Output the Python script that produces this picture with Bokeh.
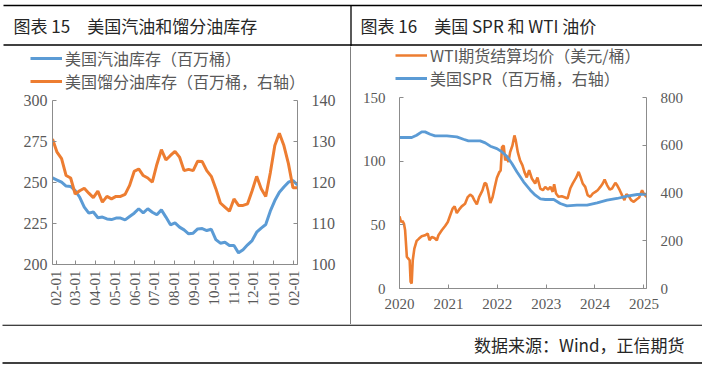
import math
import pandas as pd
from bokeh.plotting import figure
from bokeh.models import (Range1d, LinearAxis, FixedTicker, DatetimeTickFormatter,
                          Legend, LegendItem)
from bokeh.layouts import column, row
from bokeh.embed import file_html
from bokeh.resources import INLINE
from bokeh.core.properties import value

# ---------------- data: chart 15 (weekly) ----------------
c1_start = "2024-01-26"
c1_weeks = 55
gasoline = [252.8, 251.5, 250.2, 247.8, 247.6, 245.1, 241.0, 235.0, 231.3, 232.0,
            228.5, 228.9, 227.8, 227.4, 228.3, 228.3, 227.2, 229.3, 231.3, 234.0,
            231.5, 234.0, 231.9, 230.3, 233.3, 228.9, 224.2, 225.4, 222.8, 221.1,
            218.7, 219.1, 221.7, 221.9, 220.7, 221.5, 215.2, 213.0, 213.6, 211.6,
            211.6, 207.1, 209.0, 212.0, 214.6, 219.7, 222.2, 224.4, 232.5, 239.0,
            244.1, 247.2, 250.2, 251.2, 248.6]
distillate = [130.6, 127.4, 125.8, 121.7, 121.1, 117.2, 118.0, 118.6, 117.4, 116.3,
              117.9, 115.2, 116.6, 116.0, 116.6, 116.6, 117.1, 119.3, 122.7, 123.3,
              121.7, 121.1, 120.1, 124.4, 128.0, 125.5, 126.6, 127.6, 126.2, 122.9,
              123.2, 122.9, 125.2, 125.1, 122.9, 121.5, 118.5, 115.0, 114.0, 113.0,
              116.0, 114.4, 114.4, 114.8, 118.0, 121.5, 118.5, 116.6, 122.3, 129.0,
              132.0, 129.0, 124.6, 118.7, 118.7]
c1_ticks = ["2024-02-01", "2024-03-01", "2024-04-01", "2024-05-01", "2024-06-01",
            "2024-07-01", "2024-08-01", "2024-09-01", "2024-10-01", "2024-11-01",
            "2024-12-01", "2025-01-01", "2025-02-01"]
c1_left_ticks = [200, 225, 250, 275, 300]
c1_right_ticks = [100, 110, 120, 130, 140]
c1_labels = ["美国汽油库存（百万桶）", "美国馏分油库存（百万桶，右轴）"]

# ---------------- data: chart 16 ----------------
wti_dates = ["2020-01-01", "2020-01-13", "2020-01-23", "2020-02-03", "2020-02-12", "2020-02-25",
             "2020-03-07", "2020-03-17", "2020-03-24", "2020-04-01", "2020-04-09", "2020-04-21",
             "2020-05-08", "2020-05-26", "2020-06-15", "2020-07-10", "2020-07-30", "2020-08-12",
             "2020-08-29", "2020-09-18", "2020-10-06", "2020-10-18", "2020-11-12", "2020-12-07",
             "2020-12-27", "2021-01-14", "2021-02-01", "2021-02-16", "2021-03-04", "2021-03-21",
             "2021-04-10", "2021-05-05", "2021-05-25", "2021-06-12", "2021-06-29", "2021-07-14",
             "2021-08-01", "2021-08-18", "2021-09-12", "2021-09-28", "2021-10-10", "2021-10-23",
             "2021-11-10", "2021-11-27", "2021-12-12", "2021-12-29", "2022-01-16", "2022-01-26",
             "2022-02-05", "2022-02-18", "2022-03-01", "2022-03-13", "2022-03-25", "2022-04-07",
             "2022-04-24", "2022-05-09", "2022-05-19", "2022-06-03", "2022-06-20", "2022-07-08",
             "2022-07-23", "2022-08-09", "2022-08-27", "2022-09-16", "2022-10-11", "2022-10-28",
             "2022-11-18", "2022-12-08", "2022-12-25", "2023-01-15", "2023-02-02", "2023-02-19",
             "2023-03-02", "2023-03-16", "2023-04-03", "2023-04-28", "2023-05-23", "2023-06-10",
             "2023-06-30", "2023-07-19", "2023-08-14", "2023-09-01", "2023-09-13", "2023-10-01",
             "2023-10-20", "2023-11-07", "2023-11-27", "2023-12-16", "2024-01-04", "2024-01-21",
             "2024-02-10", "2024-02-28", "2024-03-13", "2024-03-31", "2024-04-20", "2024-05-07",
             "2024-06-01", "2024-06-14", "2024-07-04", "2024-07-21", "2024-08-08", "2024-08-23",
             "2024-09-10", "2024-09-27", "2024-10-17", "2024-11-06", "2024-11-26", "2024-12-18",
             "2025-01-01", "2025-01-20"]
wti = [56.7, 52.2, 53.0, 51.0, 45.7, 24.8, 23.5, 22.2, 5.2, 3.9, 22.2, 31.3,
       37.4, 39.2, 41.0, 41.8, 43.1, 37.9, 40.5, 39.7, 37.9, 41.8, 45.7, 49.1,
       52.2, 57.5, 62.7, 64.5, 59.3, 61.9, 64.5, 66.6, 71.8, 73.7, 72.4, 69.2,
       66.1, 71.8, 77.1, 82.8, 82.3, 77.1, 67.1, 71.8, 79.2, 87.0, 91.4, 92.7,
       111.0, 112.3, 100.6, 103.2, 99.3, 107.1, 112.3, 120.2, 116.3, 107.1, 100.6, 96.7,
       91.4, 87.2, 92.9, 86.4, 82.5, 87.2, 78.5, 77.2, 79.8, 77.7, 79.8, 75.9,
       81.9, 74.6, 72.0, 72.5, 71.5, 70.7, 78.5, 82.5, 87.2, 91.6, 88.2, 82.5,
       79.8, 73.3, 72.0, 74.6, 75.9, 77.2, 79.8, 82.5, 85.6, 81.2, 77.7, 78.5,
       83.0, 81.2, 77.2, 73.3, 69.4, 74.1, 72.5, 69.4, 68.1, 69.9, 71.5, 77.2,
       74.1, 72.0]
spr_dates = ["2020-01-01", "2020-04-01", "2020-05-08", "2020-06-15", "2020-07-10", "2020-08-17",
             "2020-09-23", "2020-12-20", "2021-03-04", "2021-04-23", "2021-05-30", "2021-08-26",
             "2021-10-03", "2021-11-10", "2021-12-29", "2022-02-05", "2022-03-13", "2022-04-20",
             "2022-05-27", "2022-07-16", "2022-09-05", "2022-10-12", "2022-11-19", "2022-12-26",
             "2023-02-27", "2023-04-16", "2023-06-05", "2023-08-19", "2023-11-03", "2024-01-17",
             "2024-03-31", "2024-06-14", "2024-08-28", "2024-11-12", "2025-01-20"]
spr = [632.5, 632.5, 642, 656, 656, 646, 639, 639, 635, 625, 618.5, 618.5,
       610, 596, 586, 572, 554, 523.6, 488.7, 446.8, 411.9, 391, 375.6, 372.8,
       372.8, 356, 346.2, 349, 349, 358.8, 370, 377, 386.7, 393.7, 395]
c2_ticks = ["2020-01-01", "2021-01-01", "2022-01-01", "2023-01-01", "2024-01-01", "2025-01-01"]
c2_left_ticks = [0, 50, 100, 150]
c2_right_ticks = [0, 200, 400, 600, 800]
c2_labels = ["WTI期货结算均价（美元/桶）", "美国SPR（百万桶，右轴）"]

BLUE = "#5B9BD5"
ORANGE = "#ED7D31"
AXIS = "#8C8C8C"
LABEL = "#595959"
CJK = "Noto Sans CJK SC"
NUM = "Liberation Serif"


def ms(d):
    return pd.Timestamp(d).value / 1e6


def style_axis(ax, size, standoff):
    ax.axis_line_color = AXIS
    ax.major_tick_line_color = AXIS
    ax.major_tick_in = 4
    ax.major_tick_out = 0
    ax.minor_tick_line_color = None
    ax.major_label_text_font = NUM
    ax.major_label_text_font_size = size
    ax.major_label_text_color = LABEL
    ax.major_label_standoff = standoff


def fmt(pattern):
    return DatetimeTickFormatter(days=pattern, months=pattern, years=pattern,
                                 hours=pattern, hourmin=pattern, minutes=pattern,
                                 strip_leading_zeros=False)


def no_align(p):
    try:
        p.frame_align = False
    except Exception:
        pass


def blank(width, height, **kw):
    f = figure(width=width, height=height, x_range=Range1d(0, width), y_range=Range1d(height, 0),
               min_border=0, x_axis_location=None, y_axis_location=None,
               output_backend="svg", toolbar_location=None, outline_line_color=None, **kw)
    f.grid.visible = False
    no_align(f)
    return f


def legend_fig(width, height, labels, colors, widths, locs):
    """Legend keys only: one single-row legend per series, keys drawn off-range."""
    f = blank(width, height)
    for lab, col, lw, loc in zip(labels, colors, widths, locs):
        r = f.line(x=[-20, -10], y=[-20, -10], line_color=col, line_width=lw)
        lg = Legend(items=[LegendItem(label=lab, renderers=[r])], location=loc)
        lg.label_text_font = CJK
        lg.label_text_font_size = "16px"
        lg.label_text_color = LABEL
        lg.glyph_width = 32
        lg.glyph_height = 20
        lg.label_height = 20
        lg.label_standoff = 3
        lg.spacing = 0
        lg.padding = 0
        lg.margin = 0
        lg.border_line_color = None
        lg.background_fill_alpha = 0
        f.add_layout(lg)
    return f


# ---------------- header ----------------
hdr = blank(702, 46)
hdr.line(x=[3, 702], y=[5, 5], line_color="black", line_width=1.3)
hdr.line(x=[3, 702], y=[44.5, 44.5], line_color="black", line_width=1.3)
hdr.line(x=[350.5, 350.5], y=[5, 46], line_color="black", line_width=1.3)
hdr.text(x=[13, 360], y=[25, 25],
         text=["图表 15　美国汽油和馏分油库存", "图表 16　美国 SPR 和 WTI 油价"],
         text_font=value(CJK), text_font_size="17px", text_color="#262626",
         text_baseline="middle", text_align="left")

# ---------------- chart 15 ----------------
lf1 = legend_fig(350, 46, c1_labels, [BLUE, ORANGE], [3, 3], [(30, 22), (30, -1)])

c1_dates = pd.date_range(c1_start, periods=c1_weeks, freq="7D")
p1 = figure(width=350, height=232, x_axis_type="datetime",
            x_range=Range1d(c1_dates[0], c1_dates[-1]), y_range=Range1d(200, 300),
            min_border_left=52, min_border_right=53, min_border_top=8, min_border_bottom=60,
            output_backend="svg", toolbar_location=None, outline_line_color=None)
no_align(p1)
p1.grid.visible = False
p1.extra_y_ranges = {"right": Range1d(100, 140)}
p1.add_layout(LinearAxis(y_range_name="right"), "right")
p1.yaxis[0].ticker = FixedTicker(ticks=c1_left_ticks)
p1.yaxis[1].ticker = FixedTicker(ticks=c1_right_ticks)
p1.xaxis.ticker = FixedTicker(ticks=[ms(d) for d in c1_ticks])
p1.xaxis.formatter = fmt("%m-%d")
p1.xaxis.major_label_orientation = math.pi / 2
style_axis(p1.yaxis[0], "16px", 5)
style_axis(p1.yaxis[1], "16px", 14)
style_axis(p1.xaxis[0], "15px", 6)
p1.line(c1_dates, gasoline, line_color=BLUE, line_width=3)
p1.line(c1_dates, distillate, line_color=ORANGE, line_width=3, y_range_name="right")

# ---------------- divider ----------------
div = figure(width=1, height=278, min_border=0, x_axis_location=None, y_axis_location=None,
             output_backend="svg", toolbar_location=None, outline_line_color=None,
             background_fill_color="black", border_fill_color="black")
no_align(div)
div.grid.visible = False

# ---------------- chart 16 ----------------
lf2 = legend_fig(351, 43, c2_labels, [ORANGE, BLUE], [2.6, 2.8], [(44, 22), (44, -1)])

wti_x = pd.to_datetime(wti_dates)
spr_x = pd.to_datetime(spr_dates)
p2 = figure(width=351, height=235, x_axis_type="datetime",
            x_range=Range1d(wti_x[0], wti_x[-1]), y_range=Range1d(0, 150),
            min_border_left=48, min_border_right=56, min_border_top=8, min_border_bottom=36,
            output_backend="svg", toolbar_location=None, outline_line_color=None)
no_align(p2)
p2.grid.visible = False
p2.extra_y_ranges = {"right": Range1d(0, 800)}
p2.add_layout(LinearAxis(y_range_name="right"), "right")
p2.yaxis[0].ticker = FixedTicker(ticks=c2_left_ticks)
p2.yaxis[1].ticker = FixedTicker(ticks=c2_right_ticks)
p2.xaxis.ticker = FixedTicker(ticks=[ms(d) for d in c2_ticks])
p2.xaxis.formatter = fmt("%Y")
style_axis(p2.yaxis[0], "15px", 14)
style_axis(p2.yaxis[1], "15px", 14)
style_axis(p2.xaxis[0], "15px", 10)
p2.line(wti_x, wti, line_color=ORANGE, line_width=2.6)
p2.line(spr_x, spr, line_color=BLUE, line_width=2.8, y_range_name="right")

# ---------------- footer ----------------
ftr = blank(702, 46)
ftr.line(x=[2, 702], y=[0.7, 0.7], line_color="black", line_width=1.3)
ftr.line(x=[2, 702], y=[38.5, 38.5], line_color="black", line_width=1.3)
ftr.text(x=[684], y=[19.5], text=["数据来源：Wind，正信期货"],
         text_font=value(CJK), text_font_size="17px", text_color="#262626",
         text_baseline="middle", text_align="right")

layout = column(hdr, row(column(lf1, p1), div, column(lf2, p2)), ftr)

html = file_html(layout, INLINE)
html = html.replace("<head>", "<head><style>html,body{margin:0;padding:0;overflow:hidden;}</style>", 1)
open("out.html", "w").write(html)
